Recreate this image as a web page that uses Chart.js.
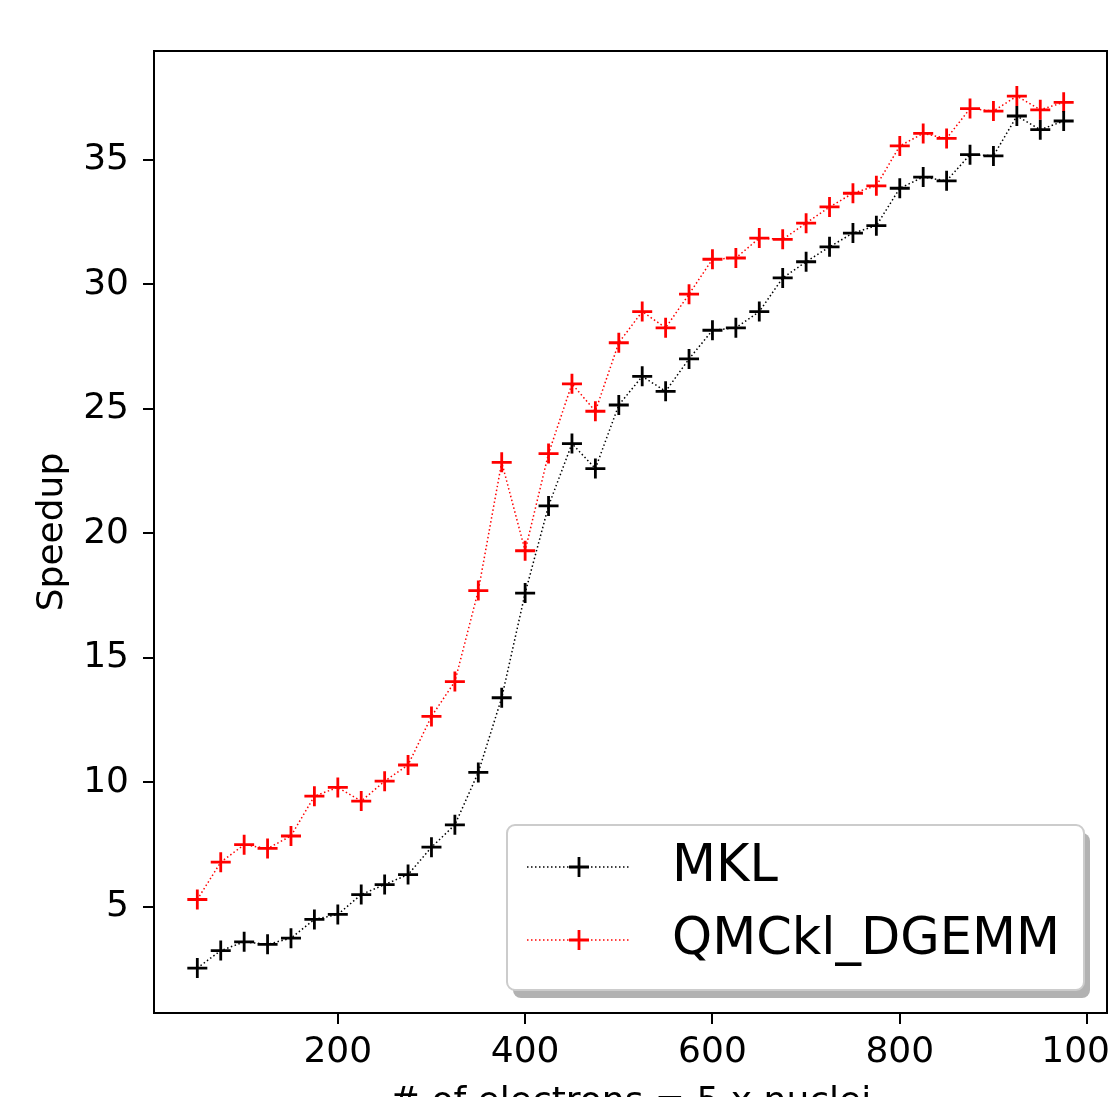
<!DOCTYPE html>
<html>
<head>
<meta charset="utf-8">
<title>Speedup</title>
<script src="https://cdn.jsdelivr.net/npm/chart.js@4.4.1/dist/chart.umd.min.js"></script>
<style>
  html, body { margin: 0; padding: 0; background: #fff; overflow: hidden; }
</style>
</head>
<body>
<canvas id="speedupChart" width="1112" height="1097"></canvas>
<script>
// values
const nElectrons = [50, 75, 100, 125, 150, 175, 200, 225, 250, 275, 300, 325, 350, 375, 400, 425, 450, 475,
  500, 525, 550, 575, 600, 625, 650, 675, 700, 725, 750, 775, 800, 825, 850, 875, 900, 925, 950, 975];

const mklSpeedup = [2.55, 3.25, 3.6, 3.5, 3.75, 4.5, 4.7, 5.5, 5.9, 6.3, 7.4, 8.3, 10.4, 13.4, 17.6, 21.1, 23.6, 22.6,
  25.15, 26.3, 25.7, 27.0, 28.15, 28.25, 28.9, 30.25, 30.9, 31.5, 32.05, 32.35, 33.85, 34.3, 34.15, 35.2, 35.15, 36.75, 36.2, 36.55];

const qmcklSpeedup = [5.3, 6.8, 7.5, 7.35, 7.85, 9.45, 9.8, 9.25, 10.05, 10.7, 12.65, 14.05, 17.7, 22.85, 19.3, 23.2, 26.0, 24.9,
  27.65, 28.9, 28.25, 29.6, 31.0, 31.05, 31.85, 31.8, 32.45, 33.1, 33.65, 33.95, 35.55, 36.05, 35.85, 37.05, 36.95, 37.55, 37.0, 37.3];

const seriesNames = ['MKL', 'QMCkl_DGEMM'];
const xTicks = [200, 400, 600, 800, 1000];
const yTicks = [5, 10, 15, 20, 25, 30, 35];

const FONT = "'DejaVu Sans', sans-serif";

function toPoints(ys) {
  return nElectrons.map((x, i) => ({ x: x, y: ys[i] }));
}

function lineSet(label, ys, color) {
  return {
    label: label,
    data: toPoints(ys),
    borderColor: color,
    backgroundColor: color,
    borderWidth: 1.5,
    borderDash: [1.5, 2.5],
    pointStyle: 'cross',
    pointRadius: 10,
    pointHoverRadius: 10,
    pointBorderWidth: 2.8,
    pointBorderColor: color,
    tension: 0,
    fill: false
  };
}

// matplotlib-ish frame around the axes + boxed legend with shadow
const frameAndLegend = {
  id: 'frameAndLegend',
  afterDraw(chart) {
    const ctx = chart.ctx;
    const a = chart.chartArea;
    ctx.save();
    ctx.strokeStyle = '#000';
    ctx.lineWidth = 2;
    ctx.strokeRect(a.left, a.top, a.right - a.left, a.bottom - a.top);

    // legend box
    const bx = a.right - 600, by = a.bottom - 188, bw = 577, bh = 165;
    ctx.fillStyle = '#b2b2b2';
    ctx.beginPath();
    ctx.roundRect(bx + 6, by + 8, bw, bh, 8);
    ctx.fill();
    ctx.fillStyle = '#fff';
    ctx.strokeStyle = '#cccccc';
    ctx.lineWidth = 2;
    ctx.beginPath();
    ctx.roundRect(bx, by, bw, bh, 8);
    ctx.fill();
    ctx.stroke();

    chart.data.datasets.forEach((ds, i) => {
      const ly = by + 42 + i * 73;
      const x0 = bx + 20, x1 = bx + 124, xm = (x0 + x1) / 2;
      ctx.strokeStyle = ds.borderColor;
      ctx.lineWidth = ds.borderWidth;
      ctx.setLineDash(ds.borderDash);
      ctx.beginPath();
      ctx.moveTo(x0, ly);
      ctx.lineTo(x1, ly);
      ctx.stroke();
      ctx.setLineDash([]);
      ctx.lineWidth = ds.pointBorderWidth;
      const r = ds.pointRadius;
      ctx.beginPath();
      ctx.moveTo(xm - r, ly);
      ctx.lineTo(xm + r, ly);
      ctx.moveTo(xm, ly - r);
      ctx.lineTo(xm, ly + r);
      ctx.stroke();
      ctx.fillStyle = '#000';
      ctx.font = '51px ' + FONT;
      ctx.textBaseline = 'middle';
      ctx.textAlign = 'left';
      ctx.fillText(ds.label, bx + 165, ly + 1);
    });
    ctx.restore();
  }
};

new Chart(document.getElementById('speedupChart'), {
  type: 'line',
  data: {
    datasets: [
      lineSet(seriesNames[0], mklSpeedup, '#000000'),
      lineSet(seriesNames[1], qmcklSpeedup, '#ff0000')
    ]
  },
  options: {
    responsive: false,
    animation: false,
    layout: { autoPadding: false, padding: { left: 0, top: 51, right: 5, bottom: 0 } },
    plugins: {
      legend: { display: false },
      tooltip: { enabled: false }
    },
    scales: {
      x: {
        type: 'linear',
        min: 3.75,
        max: 1021.25,
        afterBuildTicks: s => { s.ticks = xTicks.map(v => ({ value: v })); },
        afterFit: s => { s.height = 84; s.paddingLeft = 0; s.paddingRight = 0; },
        ticks: {
          font: { family: FONT, size: 36 },
          color: '#000',
          padding: 7,
          maxRotation: 0,
          autoSkip: false,
          callback: v => String(v)
        },
        grid: { drawOnChartArea: false, drawTicks: true, tickLength: 11, color: '#000', lineWidth: 2 },
        border: { display: false },
        title: {
          display: true,
          text: '# of electrons = 5 x nuclei',
          font: { family: FONT, size: 36 },
          color: '#000',
          padding: { top: 0, bottom: -27 }
        }
      },
      y: {
        type: 'linear',
        min: 0.745,
        max: 39.36,
        afterBuildTicks: s => { s.ticks = yTicks.map(v => ({ value: v })); },
        afterFit: s => { s.width = 154; s.paddingTop = 0; s.paddingBottom = 0; },
        ticks: {
          font: { family: FONT, size: 36 },
          color: '#000',
          padding: 14,
          autoSkip: false,
          callback: v => String(v)
        },
        grid: { drawOnChartArea: false, drawTicks: true, tickLength: 11, color: '#000', lineWidth: 2 },
        border: { display: false },
        title: {
          display: true,
          text: 'Speedup',
          font: { family: FONT, size: 36 },
          color: '#000',
          padding: { top: 31, bottom: 0 }
        }
      }
    }
  },
  plugins: [frameAndLegend]
});
</script>
</body>
</html>
